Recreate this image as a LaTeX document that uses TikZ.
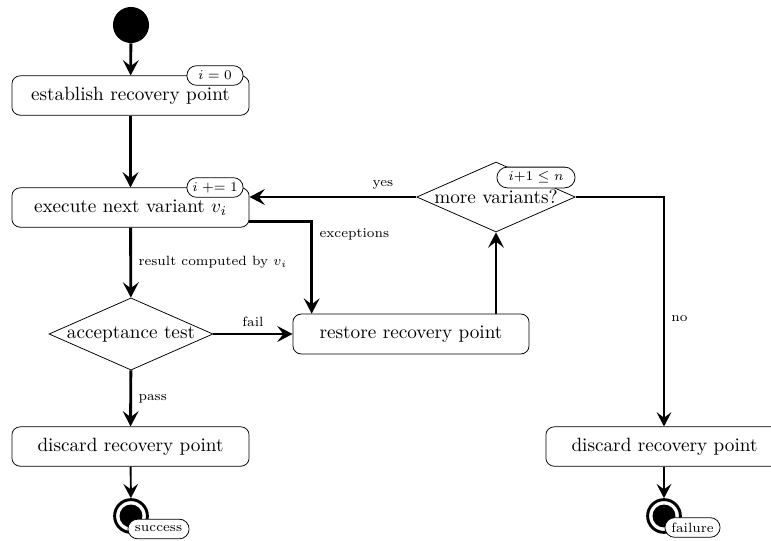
\documentclass[tikz,border=0pt]{standalone}
\usepackage{amsmath,amssymb}
\usetikzlibrary{arrows.meta,calc,positioning,shapes.geometric,shapes.misc}
\tikzset{
  actbox/.style={draw,thin,rounded corners=0.15cm,fill=white,
    minimum width=4.34cm,minimum height=0.72cm,inner sep=2pt},
  decision/.style={draw,thin,diamond,aspect=2.27,fill=white,inner sep=0pt,
    minimum width=2.95cm,minimum height=1.3cm},
  tagpill/.style={draw,thin,rounded rectangle,fill=white,font=\scriptsize,
    inner sep=1pt,minimum height=0.36cm},
  endstate/.style={circle,draw,line width=1.5pt,minimum size=0.6cm,inner sep=0pt,
    path picture={\fill (path picture bounding box.center) circle (0.21cm);}},
  flow/.style={-{Stealth[length=2.8mm,width=2.9mm,inset=1.1mm]},line width=1.5pt},
  flowthin/.style={-{Stealth[length=2.6mm,width=2.7mm,inset=1mm]},line width=1pt},
  lbl/.style={font=\scriptsize},
}

\begin{document}
\begin{tikzpicture}[x=0.0183cm,y=-0.0183cm]
  \useasboundingbox (0,0) rectangle (771,541);
  % nodes
  \node[circle,fill,minimum size=0.66cm,inner sep=0pt] (start) at (131,25) {};
  \node[actbox] (estab) at (130.5,95.5) {establish recovery point};
  \node[tagpill,minimum width=1.1cm] (tzero) at (215,75.5) {$i = 0$};
  \node[actbox] (exec) at (130.5,207.5) {execute next variant $v_i$};
  \node[tagpill,minimum width=1.1cm] (tinc) at (215,187.5) {$i \mathrel{+}= 1$};
  \node[decision,minimum width=3.0cm,minimum height=1.32cm] (accept) at (131,334) {acceptance test};
  \node[actbox,minimum width=4.32cm,minimum height=0.73cm] (restore) at (411,334) {restore recovery point};
  \node[decision,minimum width=2.9cm,minimum height=1.28cm] (more) at (496,197) {more variants?};
  \node[tagpill,minimum width=1.5cm,minimum height=0.38cm] (tmore) at (536,177.5) {$i{+}1 \leq n$};
  \node[actbox] (discok) at (130.5,446.5) {discard recovery point};
  \node[actbox] (discbad) at (664.5,446.5) {discard recovery point};
  \node[endstate] (succ) at (131,516) {};
  \node[tagpill,minimum width=1.19cm] (tsucc) at (158.5,529) {success};
  \node[endstate] (fail) at (664,516) {};
  \node[tagpill,minimum width=1.08cm] (tfail) at (692.5,527.5) {failure};
  % connectors
  \draw[flow] (start) -- (estab);
  \draw[flow] (estab) -- (exec);
  \draw[flow] (exec) -- node[lbl,right] {result computed by $v_i$} (accept);
  \draw[flow] ([yshift=-0.25cm]exec.east) -| node[lbl,right,pos=0.57] {exceptions}
    ([xshift=0.35cm]restore.north west);
  \draw[flow] (accept) -- node[lbl,above] {fail} (restore);
  \draw[flow] (restore.north -| more.south) -- (more.south);
  \draw[flow] (more.west) -- node[lbl,above,pos=0.2] {yes} (more.west -| exec.east);
  \draw[flowthin] (more.east) -| node[lbl,right,pos=0.765] {no} (discbad.north -| fail.north);
  \draw[flow] (accept) -- node[lbl,right] {pass} (discok);
  \draw[flowthin] (discok) -- (succ);
  \draw[flowthin] (discbad.south -| fail.north) -- (fail);
\end{tikzpicture}
\end{document}
